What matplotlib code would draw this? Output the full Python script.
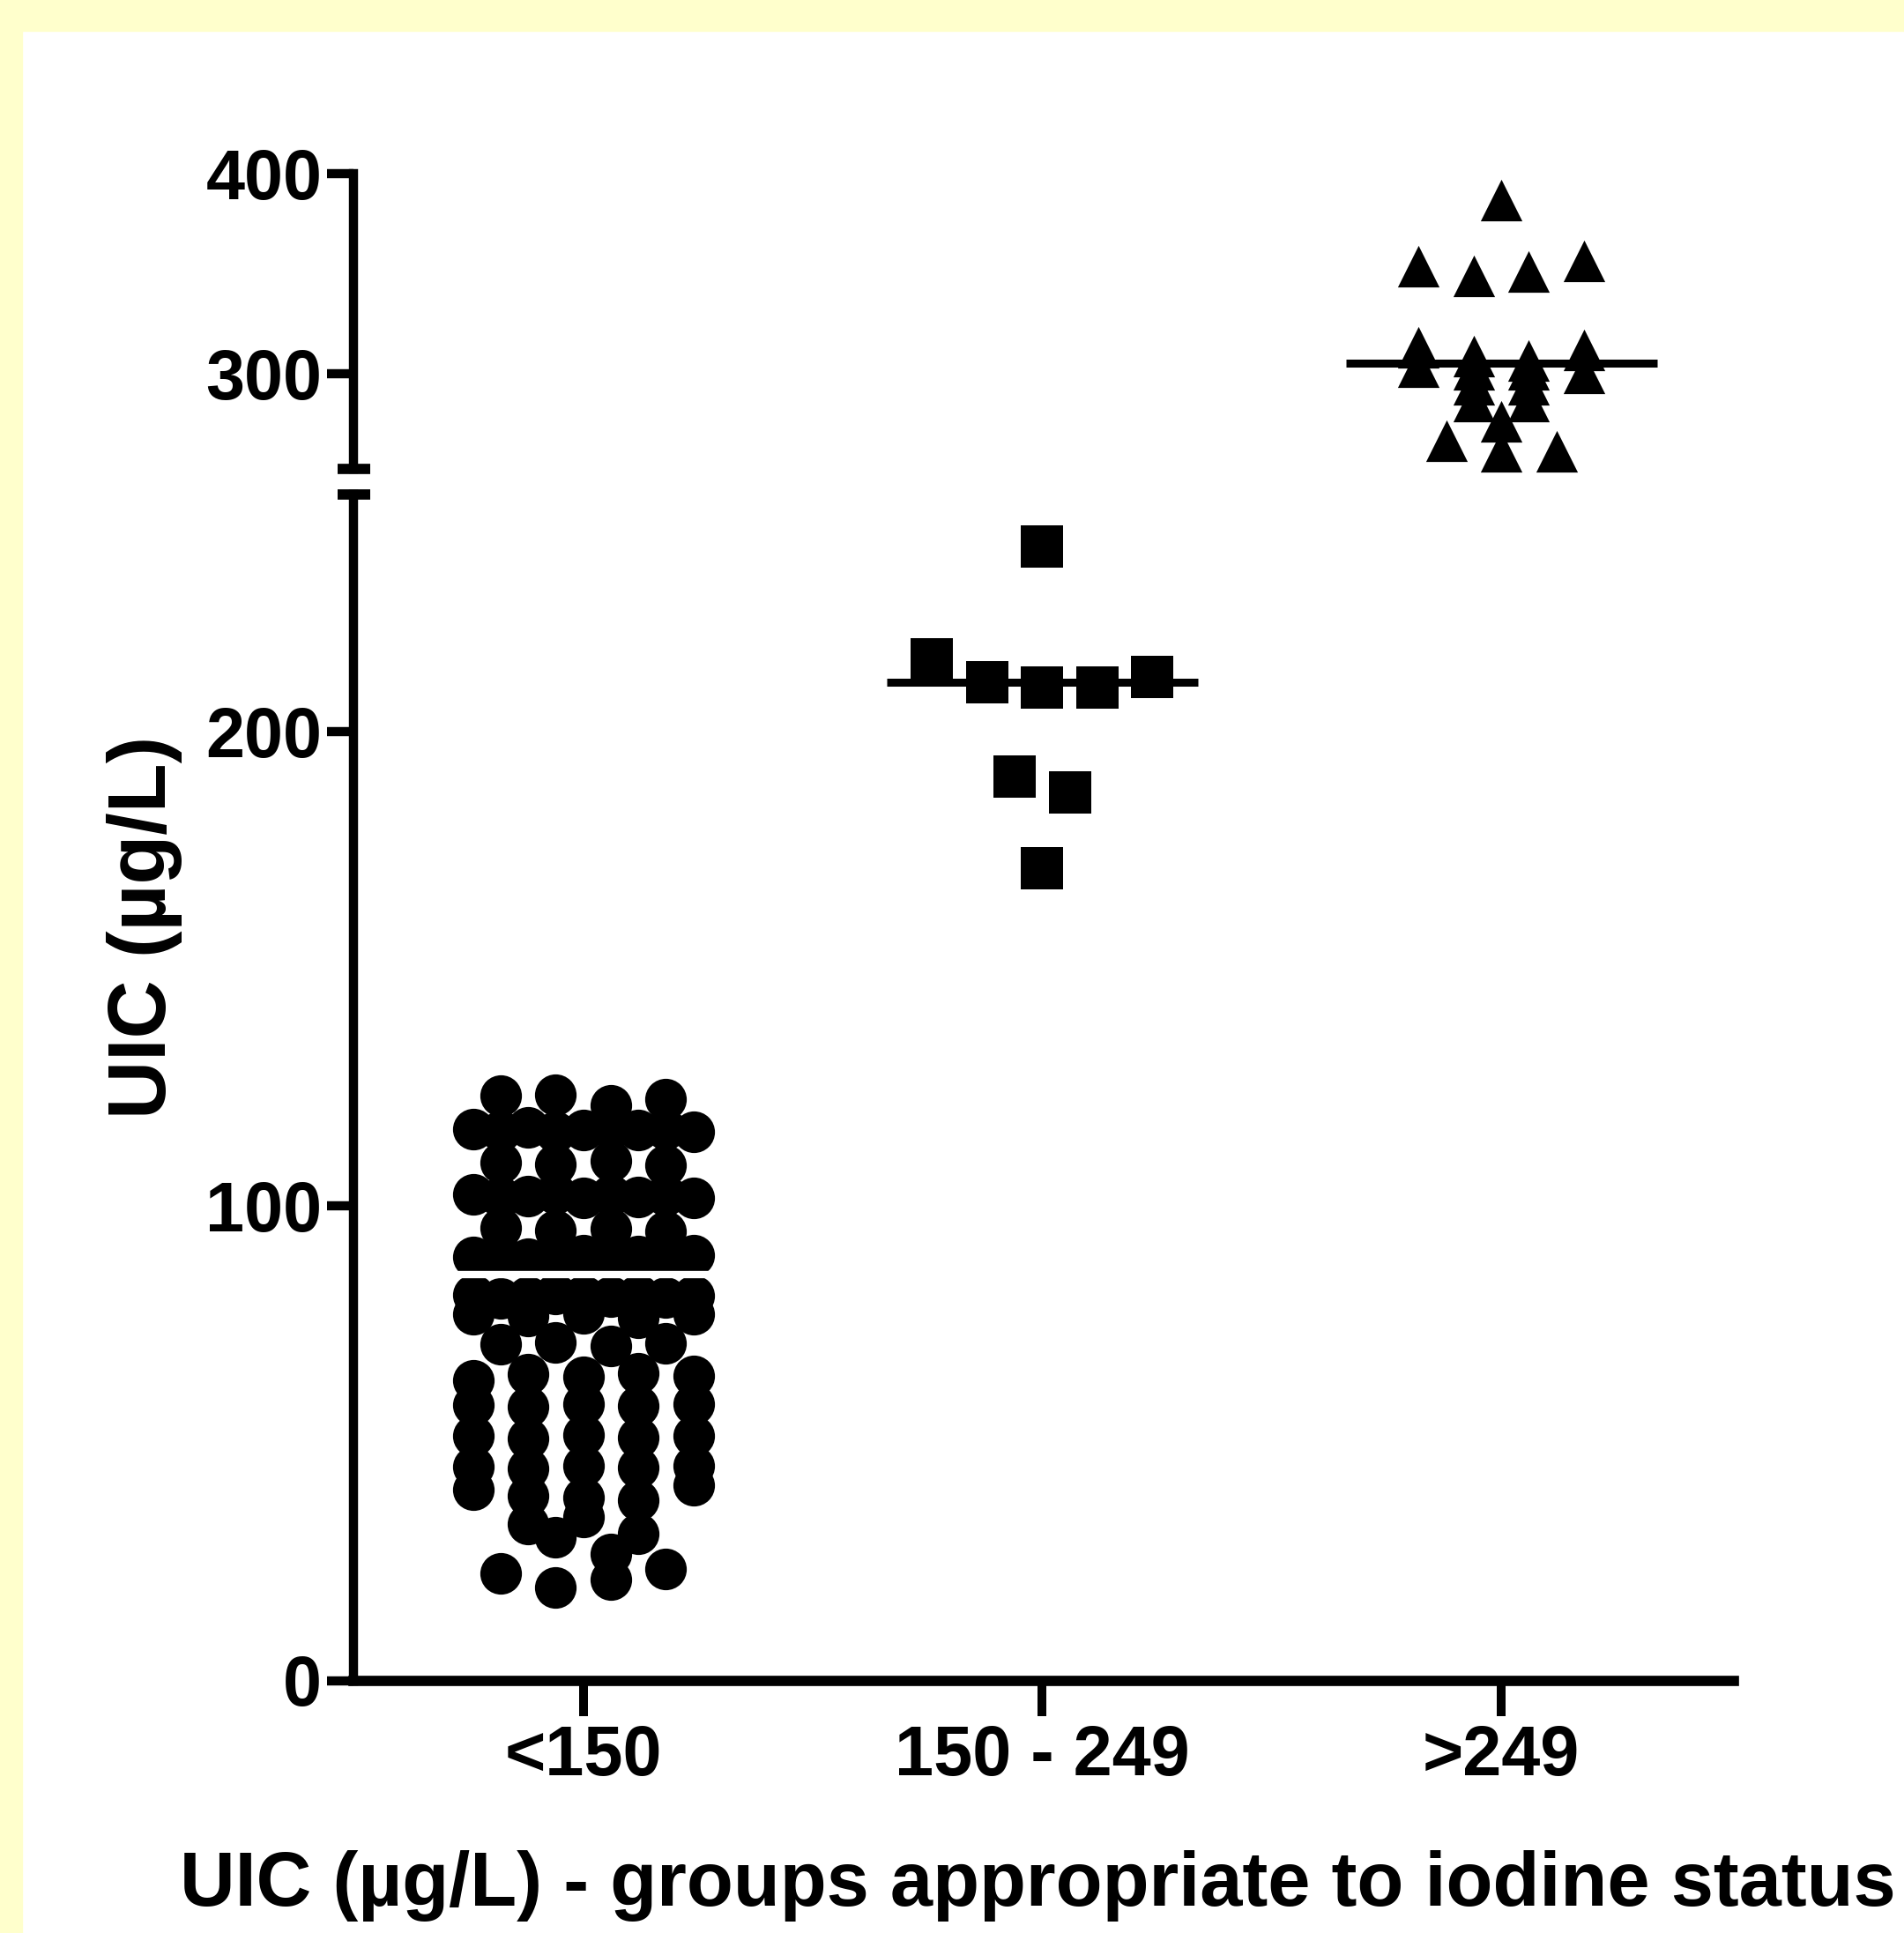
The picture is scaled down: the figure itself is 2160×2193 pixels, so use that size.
import numpy as np
import matplotlib
matplotlib.use('Agg')
import matplotlib.pyplot as plt
from matplotlib.patches import Rectangle

plt.rcParams['font.family'] = ['Liberation Sans', 'DejaVu Sans']
plt.rcParams['font.weight'] = 'bold'

# Datos (UIC en ug/L)
groups = ['<150', '150 - 249', '>249']

uic_low = [123.3, 123.5, 121.1, 122.4,
           116.2, 115.8, 116.5, 115.6, 116.0, 116.3, 115.9, 116.1, 115.7,
           109.2, 108.8, 109.5, 108.6,
           102.4, 101.8, 102.0, 102.6, 101.6, 102.2, 101.9, 102.3, 101.7,
           95.4, 94.9, 95.2, 94.6,
           89.3, 89.8, 88.9, 89.5, 89.6, 89.1, 89.4, 89.0, 89.7,
           81.2, 80.6, 80.9, 81.4, 81.0, 80.8, 81.3, 80.7, 81.1,
           77.1, 76.8, 77.3, 76.5, 77.2,
           70.8, 71.2, 70.5, 71.0,
           63.2, 64.5, 64.0, 64.8, 64.2,
           58.0, 57.6, 58.3, 57.9, 58.2,
           51.5, 51.0, 51.8, 51.2, 51.6,
           45.0, 44.6, 45.3, 44.8, 45.2,
           40.3, 39.0, 38.5, 38.0, 41.2,
           33.0, 34.5, 31.0,
           30.2, 26.7,
           22.6, 19.6, 21.3, 23.5]

uic_mid = [239.0, 215.1, 210.3, 209.3, 209.3, 211.5, 190.4, 187.1, 171.2]

uic_high = [386.7,
            353.8, 348.7, 351.0, 356.3,
            313.5, 308.7, 306.9, 312.0,
            303.5, 302.1, 302.1, 300.6,
            294.7, 294.7, 286.6, 286.6,
            276.2, 266.6, 261.4, 261.4]

medians = [85.6, 210.4, 305.3]


def swarm_offsets(values, tol, step=0.12, half_width=0.24):
    """Reparte en filas los puntos con valores parecidos (como Prism)."""
    vals = np.asarray(values, dtype=float)
    order = np.argsort(-vals, kind='stable')
    offsets = np.zeros(len(vals))
    i = 0
    while i < len(order):
        top = vals[order[i]]
        j = i
        while j < len(order) and vals[order[j]] >= top - tol:
            j += 1
        row = sorted(order[i:j])
        n = len(row)
        # las filas largas se comprimen para no pasar del ancho maximo
        s = step if n < 2 else min(step, 2 * half_width / (n - 1))
        for k, idx in enumerate(row):
            offsets[idx] = (k - (n - 1) / 2) * s
        i = j
    return offsets


W, H = 2160, 2193
fig = plt.figure(figsize=(W / 100, H / 100), dpi=100, facecolor='white')

# marco amarillo de la diapositiva original
fig.patches.append(Rectangle((0, 1 - 35 / H), 1, 35 / H, transform=fig.transFigure,
                             color='#FFFFCC', zorder=0))
fig.patches.append(Rectangle((0, 0), 25 / W, 1, transform=fig.transFigure,
                             color='#FFFFCC', zorder=0))

left, width = 401.4 / W, (1967 - 401.4) / W
ax = fig.add_axes([left, (H - 1906.5) / H, width, 1346 / H])
ax_top = fig.add_axes([left, (H - 532.3) / H, width, (532.3 - 196.7) / H])

for a in (ax, ax_top):
    a.set_xlim(-0.5, 2.507)
    a.patch.set_alpha(0)
    a.spines['top'].set_visible(False)
    a.spines['right'].set_visible(False)
    a.spines['left'].set_linewidth(7.5)
    a.tick_params(axis='y', direction='out', length=21.5, width=7.5,
                  labelsize=57, pad=4.5)

ax.set_ylim(0, 250)
ax_top.set_ylim(252.5, 400)
ax.set_yticks([0, 100, 200])
ax_top.set_yticks([300, 400])
ax_top.spines['bottom'].set_visible(False)
ax_top.set_xticks([])

ax.spines['bottom'].set_linewidth(8.4)
ax.set_xticks(range(len(groups)))
ax.set_xticklabels(groups)
ax.tick_params(axis='x', direction='out', length=28.8, width=7.2,
               labelsize=57, pad=7)

# puntos de cada grupo
x_low = 0 + swarm_offsets(uic_low, 4.0)
x_mid = 1 + swarm_offsets(uic_mid, 8.0)
x_high = 2 + swarm_offsets(uic_high, 7.8)

ax.plot(x_low, uic_low, 'o', ms=34, color='black', mew=0, clip_on=False, zorder=2)
ax.plot(x_mid, uic_mid, 's', ms=34, color='black', mew=0, clip_on=False, zorder=2)
triangulo = [(-1, -1), (1, -1), (0, 1)]
ax_top.plot(x_high, uic_high, marker=triangulo, ls='none', ms=34, color='black',
            mew=0, clip_on=False, zorder=2)

# lineas de la mediana
ax.hlines(medians[0], -0.339, 0.339, color='white', lw=6, zorder=3)
ax.hlines(medians[1], 1 - 0.339, 1 + 0.339, color='black', lw=6.5, zorder=3)
ax_top.hlines(medians[2], 2 - 0.339, 2 + 0.339, color='black', lw=6.5, zorder=3)

# corte del eje y
for a, yy in ((ax, 1), (ax_top, 0)):
    a.plot([-0.5355, -0.4645], [yy, yy], color='black', lw=8.4, solid_capstyle='butt',
           transform=a.get_xaxis_transform(), clip_on=False)

fig.text(188 / W, 1 - 1052 / H, 'UIC (µg/L)', rotation=90, rotation_mode='anchor',
         ha='center', va='baseline', fontsize=66, fontweight='bold')
fig.text(1177 / W, (H - 2162) / H, 'UIC (µg/L) - groups appropriate to iodine status',
         ha='center', va='baseline', fontsize=62.5, fontweight='bold')

fig.savefig('out.png', dpi=100)
